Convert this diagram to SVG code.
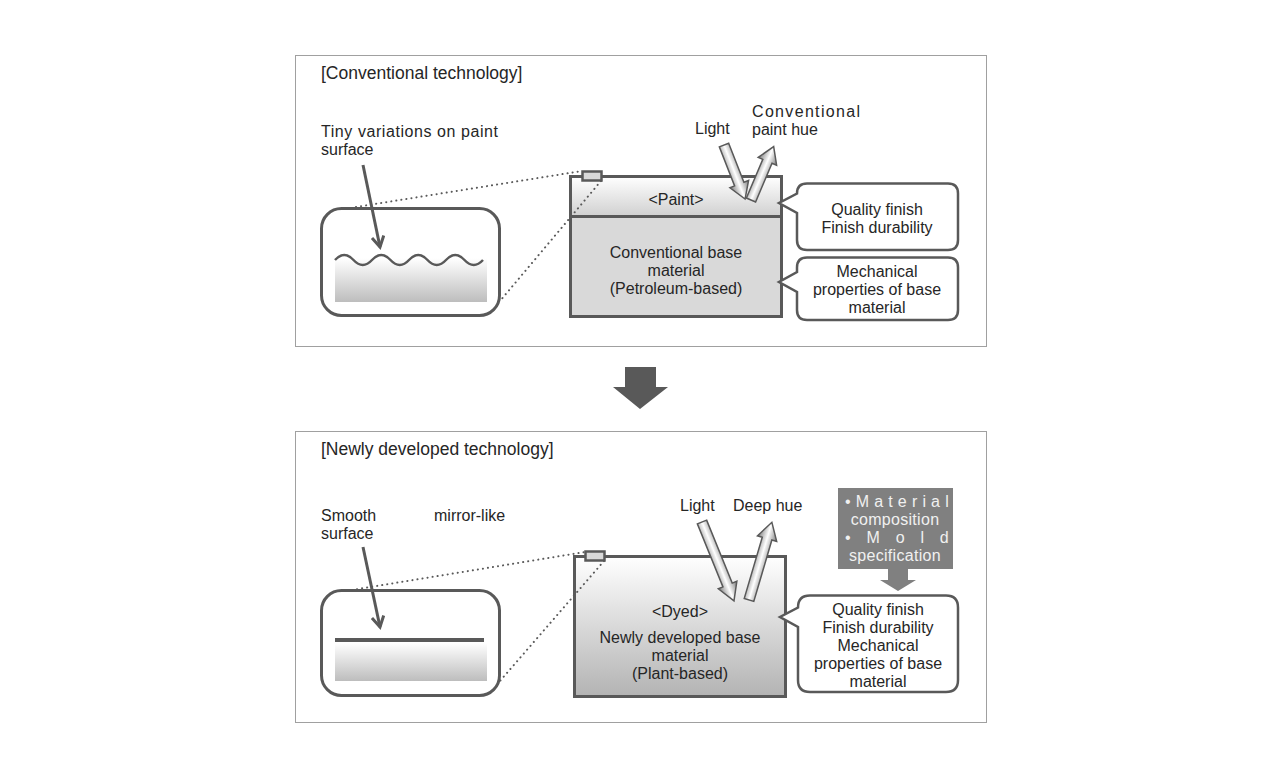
<svg xmlns="http://www.w3.org/2000/svg" width="1280" height="778" viewBox="0 0 1280 778">
<defs>
<style>
text{font-family:"Liberation Sans",Arial,sans-serif;font-size:16px;fill:#262626}
.t{font-size:17.5px}
.c{text-anchor:middle}
.w{fill:#f0f0f0;font-size:16px;letter-spacing:0.3px}
.frame{fill:#fff;stroke:#a0a0a0;stroke-width:1}
.box{stroke:#595959;stroke-width:3}
.rr{fill:#fff;stroke:#595959;stroke-width:3}
.call{fill:#fff;stroke:#595959;stroke-width:2.5}
.dot{fill:none;stroke:#595959;stroke-width:2;stroke-dasharray:0.1 5;stroke-linecap:round}
.ptr{fill:none;stroke:#595959;stroke-width:3}
.blk{fill:url(#ag);stroke:#595959;stroke-width:1.5}
</style>
<linearGradient id="vg" x1="0" y1="0" x2="0" y2="1"><stop offset="0" stop-color="#ffffff"/><stop offset="1" stop-color="#bdbdbd"/></linearGradient>
<linearGradient id="pg" x1="0" y1="0" x2="0" y2="1"><stop offset="0" stop-color="#ffffff"/><stop offset="1" stop-color="#d0d0d0"/></linearGradient>
<linearGradient id="bg" x1="0" y1="0" x2="0" y2="1"><stop offset="0" stop-color="#ffffff"/><stop offset="1" stop-color="#b3b3b3"/></linearGradient>
<linearGradient id="ag" x1="0" y1="0" x2="0" y2="1"><stop offset="0" stop-color="#7a7a7a"/><stop offset="0.5" stop-color="#ffffff"/><stop offset="1" stop-color="#7a7a7a"/></linearGradient>
<marker id="ah" viewBox="0 0 10 10" refX="8" refY="5" markerWidth="5" markerHeight="5" orient="auto" markerUnits="strokeWidth"><path d="M1,1 L8,5 L1,9" fill="none" stroke="#595959" stroke-width="2"/></marker>
</defs>

<g id="top-panel">
<rect class="frame" x="295.5" y="55.5" width="691" height="291"/>
<text class="t" x="321" y="79">[Conventional technology]</text>
</g>

<g id="top-zoom">
<rect class="rr" x="321.5" y="208.5" width="178" height="107" rx="20"/>
<rect x="335" y="258" width="152" height="44" fill="url(#vg)"/>
<path d="M335,260 q9.25,-10 18.5,0 t18.5,0 t18.5,0 t18.5,0 t18.5,0 t18.5,0 t18.5,0 t18.5,0" fill="none" stroke="#595959" stroke-width="2.5"/>
<text x="321" y="137" textLength="177" lengthAdjust="spacing">Tiny variations on paint</text>
<text x="321" y="155">surface</text>
</g>

<g id="top-material">
<rect class="box" x="570.5" y="176.5" width="211" height="40" fill="url(#pg)"/>
<rect class="box" x="570.5" y="216.5" width="211" height="100" fill="#d9d9d9"/>
<text class="c" x="676" y="205">&lt;Paint&gt;</text>
<text class="c" x="676" y="258">Conventional base</text>
<text class="c" x="676" y="276">material</text>
<text class="c" x="676" y="294">(Petroleum-based)</text>
<rect x="582.5" y="171.5" width="19" height="9" fill="#d9d9d9" stroke="#595959" stroke-width="2.5"/>
</g>

<g id="top-light">
<path class="blk" transform="translate(724,145) rotate(68.7)" d="M0,-5 H42 V-10 L58,0 L42,10 V5 H0 Z"/>
<path class="blk" transform="translate(751,200) rotate(-67)" d="M0,-5 H42 V-10 L58,0 L42,10 V5 H0 Z"/>
<text x="695" y="134">Light</text>
<text x="752" y="117" textLength="108" lengthAdjust="spacing">Conventional</text>
<text x="752" y="135">paint hue</text>
</g>

<g id="top-callout-1">
<path class="call" d="M807,183.5 H948 Q958,183.5 958,193.5 V240 Q958,250 948,250 H807 Q797,250 797,240 V213 L779,203 L797,193.5 Q797,183.5 807,183.5 Z"/>
<text class="c" x="877" y="215">Quality finish</text>
<text class="c" x="877" y="233">Finish durability</text>
</g>

<g id="top-callout-2">
<path class="call" d="M807,257.5 H948 Q958,257.5 958,267.5 V310 Q958,320 948,320 H807 Q797,320 797,310 V292 L779,282 L797,272 V267.5 Q797,257.5 807,257.5 Z"/>
<text class="c" x="877" y="277">Mechanical</text>
<text class="c" x="877" y="295">properties of base</text>
<text class="c" x="877" y="313">material</text>
</g>

<g id="transition-arrow">
<polygon points="625,367 656,367 656,387 668,387 640,409 613,387 625,387" fill="#595959"/>
</g>

<g id="bottom-panel">
<rect class="frame" x="295.5" y="431.5" width="691" height="291"/>
<text class="t" x="321" y="455">[Newly developed technology]</text>
</g>

<g id="bottom-zoom">
<rect class="rr" x="321.5" y="590.5" width="178" height="105" rx="20"/>
<rect x="335" y="643" width="152" height="38" fill="url(#vg)"/>
<line x1="335" y1="640" x2="484" y2="640" stroke="#595959" stroke-width="4"/>
<text x="321" y="521">Smooth</text>
<text x="321" y="539">surface</text>
<text x="434" y="521">mirror-like</text>
</g>

<g id="bottom-material">
<rect class="box" x="574.5" y="556.5" width="211" height="140" fill="url(#bg)"/>
<text class="c" x="680" y="617">&lt;Dyed&gt;</text>
<text class="c" x="680" y="643">Newly developed base</text>
<text class="c" x="680" y="661">material</text>
<text class="c" x="680" y="679">(Plant-based)</text>
<rect x="585.5" y="551.5" width="19" height="9" fill="#d9d9d9" stroke="#595959" stroke-width="2.5"/>
</g>

<g id="bottom-light">
<path class="blk" transform="translate(702,522) rotate(67.9)" d="M0,-5 H68 V-10 L85,0 L68,10 V5 H0 Z"/>
<path class="blk" transform="translate(749,600) rotate(-73.6)" d="M0,-5 H64 V-10 L81,0 L64,10 V5 H0 Z"/>
<text x="680" y="511">Light</text>
<text x="733" y="511">Deep hue</text>
</g>

<g id="factors">
<rect x="838" y="488" width="115" height="81" fill="#808080"/>
<text class="w" x="845" y="507" textLength="104" lengthAdjust="spacing">•Material</text>
<text class="w c" x="895" y="525">composition</text>
<text class="w" x="845" y="543" textLength="104" lengthAdjust="spacing">•Mold</text>
<text class="w c" x="895" y="561">specification</text>
<polygon points="888,569 908,569 908,580 916,580 898,591 880,580 888,580" fill="#808080"/>
</g>

<g id="bottom-callout">
<path class="call" d="M810,595.5 H946 Q958,595.5 958,607.5 V680 Q958,692 946,692 H810 Q798,692 798,680 V627 L780,617 L798,607.5 Q798,595.5 810,595.5 Z"/>
<text class="c" x="878" y="615">Quality finish</text>
<text class="c" x="878" y="633">Finish durability</text>
<text class="c" x="878" y="651">Mechanical</text>
<text class="c" x="878" y="669">properties of base</text>
<text class="c" x="878" y="687">material</text>
</g>

<g id="connectors">
<line class="dot" x1="356" y1="207" x2="582" y2="171"/>
<line class="dot" x1="601" y1="181" x2="500" y2="301"/>
<line class="ptr" x1="363" y1="165" x2="380" y2="247" marker-end="url(#ah)"/>
<line class="dot" x1="352" y1="590" x2="585" y2="552"/>
<line class="dot" x1="604" y1="561" x2="500" y2="681"/>
<line class="ptr" x1="363" y1="547" x2="380" y2="627" marker-end="url(#ah)"/>
</g>
</svg>
